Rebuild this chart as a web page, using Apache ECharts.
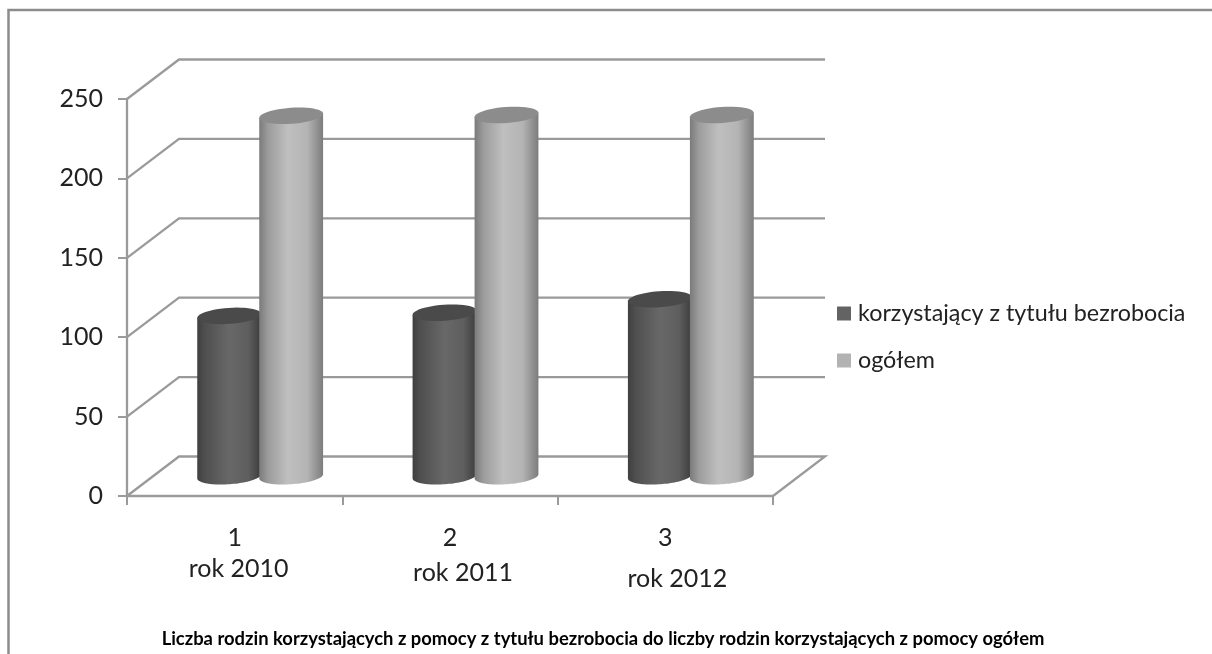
<!DOCTYPE html>
<html>
<head>
<meta charset="utf-8">
<style>html,body{margin:0;padding:0;background:#fff}#c{width:1212px;height:654px}</style>
<script src="https://cdn.jsdelivr.net/npm/echarts@6/dist/echarts.min.js"></script>
</head>
<body>
<div id="c"></div>
<script>
const categories = ['1', '2', '3'];
const yearLabels = ['rok 2010', 'rok 2011', 'rok 2012'];
const seriesNames = ['korzystający z tytułu bezrobocia', 'ogółem'];
const beneficiaries = [101, 103, 111.5];
const totals = [227, 227.5, 227.5];
const valueTicks = [0, 50, 100, 150, 200, 250];
const titleText = 'Liczba rodzin korzystających z pomocy z tytułu bezrobocia do liczby rodzin korzystających z pomocy ogółem';

// layout of the pseudo-3D projection
const DEPTH_X = 52, DEPTH_Y = 39.5, BAR_W = 64, RY = 8, TILT = -4 * Math.PI / 180;
const SIDE_OFFSET = [-31.5, 30.5];
const YEAR_OFFSET = [[4, 73], [13, 77], [12, 83]];
const AXIS_COLOR = '#9a9a9a';
const FONT = 'Lato';

function ellipsePt(cx, cy, a) {
  const rx = BAR_W / 2;
  const x = rx * Math.cos(a), y = RY * Math.sin(a);
  return [cx + x * Math.cos(TILT) - y * Math.sin(TILT), cy + x * Math.sin(TILT) + y * Math.cos(TILT)];
}
function arcPts(cx, cy, from, to) {
  const pts = [];
  for (let i = 0; i <= 48; i++) pts.push(ellipsePt(cx, cy, from + (to - from) * i / 48));
  return pts;
}
function hGrad(x0, stops) {
  return { type: 'linear', x: x0, y: 0, x2: x0 + BAR_W, y2: 0, global: true,
    colorStops: stops.map(s => ({ offset: s[0], color: s[1] })) };
}
const STYLE = [
  { top: '#4a4a4a', stops: [[0, '#3f3f3f'], [0.12, '#4f4f4f'], [0.5, '#686868'], [0.8, '#5e5e5e'], [1, '#3c3c3c']] },
  { top: '#8c8c8c', stops: [[0, '#7a7a7a'], [0.14, '#9c9c9c'], [0.45, '#bfbfbf'], [0.75, '#b4b4b4'], [0.92, '#8e8e8e'], [1, '#7c7c7c']] }
];
function cylinder(seriesIndex) {
  return function (params, api) {
    const c = api.coord([api.value(0), api.value(1)]);
    const base = api.coord([api.value(0), 0]);
    const cx = c[0] + DEPTH_X / 2 + SIDE_OFFSET[seriesIndex];
    const yTop = c[1] - DEPTH_Y / 2, yBase = base[1] - DEPTH_Y / 2;
    const st = STYLE[seriesIndex];
    const body = [ellipsePt(cx, yTop, Math.PI)]
      .concat(arcPts(cx, yBase, Math.PI, 0))
      .concat([ellipsePt(cx, yTop, 0)]);
    return { type: 'group', children: [
      { type: 'polygon', shape: { points: body }, style: { fill: hGrad(cx - BAR_W / 2, st.stops) } },
      { type: 'polygon', shape: { points: arcPts(cx, yTop, 0, 2 * Math.PI) }, style: { fill: st.top } }
    ] };
  };
}

const chart = echarts.init(document.getElementById('c'), null, { renderer: 'canvas' });
chart.setOption({
  animation: false,
  backgroundColor: '#fff',
  title: { text: titleText, left: 598, top: 625, textAlign: 'center',
    textStyle: { fontFamily: FONT, fontSize: 18.4, fontWeight: 'bold', color: '#000' } },
  legend: {
    data: seriesNames, orient: 'vertical', left: 832, top: 297, itemWidth: 14, itemHeight: 14, itemGap: 24,
    icon: 'rect', textStyle: { fontFamily: FONT, fontSize: 23.3, color: '#222', padding: [0, 0, 0, 2] }
  },
  grid: { left: 127, right: 439, top: 99, bottom: 158 },
  xAxis: { type: 'category', data: categories,
    axisLine: { lineStyle: { color: AXIS_COLOR, width: 2.3 } },
    axisTick: { show: true, alignWithLabel: false, length: 9, lineStyle: { color: AXIS_COLOR, width: 2 } },
    axisLabel: { margin: 29, fontFamily: FONT, fontSize: 25, color: '#222' } },
  yAxis: { type: 'value', min: 0, max: 250, interval: 50,
    splitLine: { show: false },
    axisLine: { show: true, lineStyle: { color: AXIS_COLOR, width: 2.3 } },
    axisTick: { show: true, length: 9, lineStyle: { color: AXIS_COLOR, width: 2 } },
    axisLabel: { margin: 24, fontFamily: FONT, fontSize: 25, color: '#222' } },
  graphic: [{ type: 'polyline', silent: true, z: 0,
    shape: { points: [[8.5, 654], [8.5, 10], [1212, 10]] },
    style: { stroke: '#8c8c8c', lineWidth: 2.5, fill: null } }],
  series: [
    { type: 'custom', name: 'walls', z: 1, silent: true, data: valueTicks.map(v => [0, v]),
      encode: { x: 0, y: 1 },
      renderItem(params, api) {
        const p = api.coord([0, api.value(1)]);
        const l = params.coordSys.x, r = l + params.coordSys.width;
        const pts = [[l, p[1]], [l + DEPTH_X, p[1] - DEPTH_Y], [r + DEPTH_X, p[1] - DEPTH_Y]];
        if (api.value(1) === 0) pts.push([r, p[1]]);
        return { type: 'polyline', shape: { points: pts }, style: { stroke: AXIS_COLOR, lineWidth: 2.3, fill: null } };
      } },
    { type: 'custom', name: seriesNames[0], z: 3, itemStyle: { color: '#636363' },
      data: categories.map((c, i) => [i, beneficiaries[i]]), encode: { x: 0, y: 1 }, renderItem: cylinder(0) },
    { type: 'custom', name: seriesNames[1], z: 4, itemStyle: { color: '#b2b2b2' },
      data: categories.map((c, i) => [i, totals[i]]), encode: { x: 0, y: 1 }, renderItem: cylinder(1) },
    { type: 'custom', name: 'years', z: 5, silent: true,
      data: categories.map((c, i) => [i, 0]), encode: { x: 0, y: 1 },
      renderItem(params, api) {
        const i = params.dataIndex, p = api.coord([i, 0]);
        return { type: 'text', x: p[0] + YEAR_OFFSET[i][0], y: p[1] + YEAR_OFFSET[i][1],
          style: { text: yearLabels[i], fontFamily: FONT, fontSize: 25, fill: '#222', align: 'center', verticalAlign: 'middle' } };
      } }
  ]
});
</script>
</body>
</html>
